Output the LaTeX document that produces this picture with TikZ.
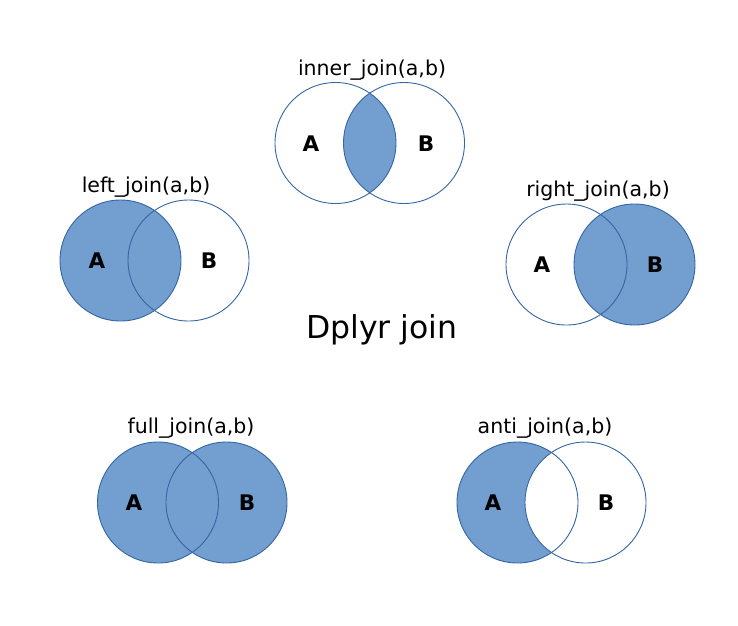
\documentclass[tikz,border=0pt]{standalone}
\usepackage{fontspec}
\setmainfont{DejaVu Sans}
\usetikzlibrary{positioning,backgrounds}
\definecolor{setfill}{HTML}{729FCF}
\definecolor{setline}{HTML}{3465A4}

\begin{document}
\begin{tikzpicture}[x=1pt, y=-1pt,
    setc/.style={circle, draw=setline, line width=0.9pt, minimum size=121pt, inner sep=0pt},
    ttl/.style={font=\fontsize{20.5}{24}\selectfont, anchor=base},
    lab/.style={font=\fontsize{21.5}{24}\selectfont\bfseries},
    hfill/.style={fill=setfill}
]
\useasboundingbox (0,0) rectangle (738,625);

% inner_join
\node[ttl] (tinner) at (372,75) {inner\_join(a,b)};
\node[setc] (ia) at (335.5,143) {};
\node[setc] (ib) at (404,143) {};
\node[lab] (iA) at (311,144) {A};
\node[lab] (iB) at (426,144) {B};
\begin{scope}[on background layer]
  \begin{scope}
    \clip (ia.center) circle[radius=60.5];
    \fill[hfill] (ib.center) circle[radius=60.5];
  \end{scope}
\end{scope}

% left_join
\node[ttl] (tleft) at (146,192) {left\_join(a,b)};
\node[setc] (la) at (120.5,260.5) {};
\node[setc] (lb) at (188.5,260.5) {};
\node[lab] (lA) at (97,261) {A};
\node[lab] (lB) at (209,261) {B};
\begin{scope}[on background layer]
  \fill[hfill] (la.center) circle[radius=60.5];
\end{scope}

% right_join
\node[ttl] (tright) at (598,196.5) {right\_join(a,b)};
\node[setc] (ra) at (566.5,264.5) {};
\node[setc] (rb) at (634.5,264.5) {};
\node[lab] (rA) at (542,265) {A};
\node[lab] (rB) at (655,265) {B};
\begin{scope}[on background layer]
  \fill[hfill] (rb.center) circle[radius=60.5];
\end{scope}

% title
\node[font=\fontsize{31.5}{36}\selectfont, anchor=base] (dplyr) at (382,338) {Dplyr join};

% full_join
\node[ttl] (tfull) at (191,433) {full\_join(a,b)};
\node[setc] (fa) at (158,502.5) {};
\node[setc] (fb) at (226.5,502.5) {};
\node[lab] (fA) at (134,503) {A};
\node[lab] (fB) at (247,503) {B};
\begin{scope}[on background layer]
  \fill[hfill] (fa.center) circle[radius=60.5];
  \fill[hfill] (fb.center) circle[radius=60.5];
\end{scope}

% anti_join
\node[ttl] (tanti) at (545,433) {anti\_join(a,b)};
\node[setc] (aa) at (517.5,502.5) {};
\node[setc] (ab) at (585.5,502.5) {};
\node[lab] (aA) at (493,503) {A};
\node[lab] (aB) at (606,503) {B};
\begin{scope}[on background layer]
  \fill[hfill] (aa.center) circle[radius=60.5];
  \fill[white] (ab.center) circle[radius=60.5];
\end{scope}
\end{tikzpicture}
\end{document}
